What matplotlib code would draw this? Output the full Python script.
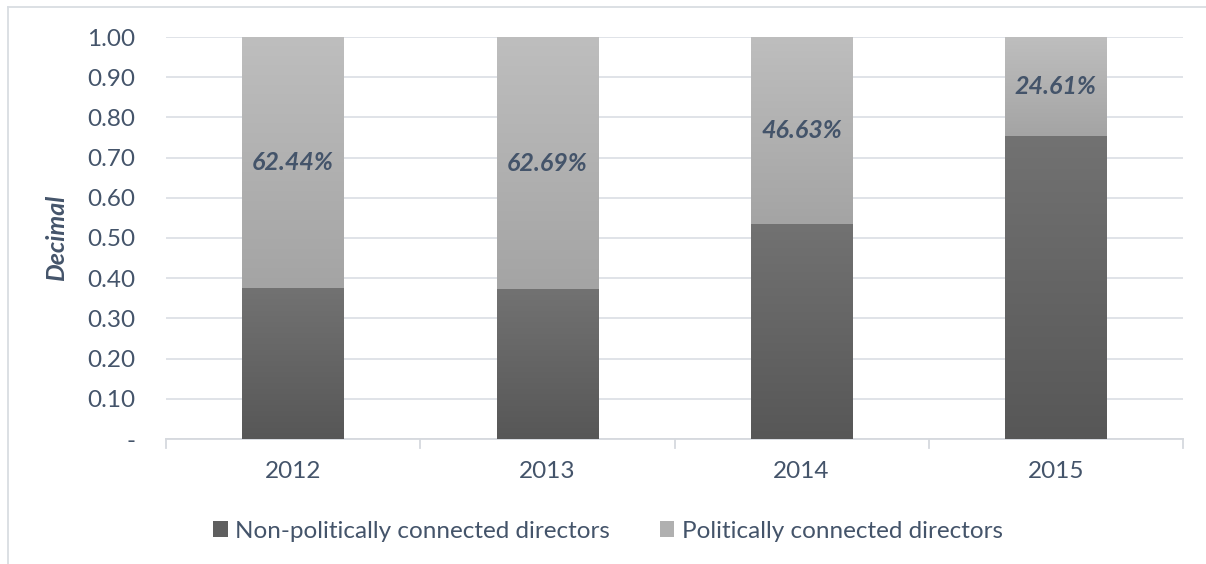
import matplotlib
matplotlib.use("Agg")
import matplotlib.pyplot as plt
import numpy as np
from matplotlib.lines import Line2D
from matplotlib.patches import Patch

years = ["2012", "2013", "2014", "2015"]
political_pct = [62.44, 62.69, 46.63, 24.61]
non_political = [1 - p / 100 for p in political_pct]
political = [p / 100 for p in political_pct]
yticks = [0.0, 0.1, 0.2, 0.3, 0.4, 0.5, 0.6, 0.7, 0.8, 0.9, 1.0]
yticklabels = ["-", "0.10", "0.20", "0.30", "0.40", "0.50", "0.60", "0.70", "0.80", "0.90", "1.00"]

TXT = "#44546A"
FONT = ["Lato", "DejaVu Sans"]
plt.rcParams["font.family"] = FONT

W, H = 1206, 564
fig = plt.figure(figsize=(W / 100, H / 100), dpi=100)
ax = fig.add_axes([166 / W, 1 - 439 / H, (1183 - 166) / W, (439 - 37) / H])

x = np.arange(len(years))
width = 0.4
ax.set_xlim(-0.5, len(years) - 0.5)
ax.set_ylim(0, 1.0)

def grad_bar(xc, bottom, height, c_top, c_bot):
    p = ax.bar(xc, height, width, bottom=bottom, color=c_bot, zorder=2, linewidth=0)[0]
    g = np.linspace(0, 1, 256).reshape(-1, 1)
    top = np.array(matplotlib.colors.to_rgb(c_top))
    bot = np.array(matplotlib.colors.to_rgb(c_bot))
    img = top[None, None, :] * (1 - g[:, :, None]) + bot[None, None, :] * g[:, :, None]
    im = ax.imshow(img, extent=(xc - width / 2, xc + width / 2, bottom, bottom + height),
                   aspect="auto", zorder=3, origin="upper", interpolation="bilinear")
    im.set_clip_path(p)

for i in range(len(years)):
    grad_bar(x[i], 0, non_political[i], "#727272", "#575757")
    grad_bar(x[i], non_political[i], political[i], "#bebebe", "#a4a4a4")
    ax.text(x[i], non_political[i] + political[i] / 2, f"{political_pct[i]:.2f}%",
            ha="center", va="center", fontsize=18, fontweight="bold", fontstyle="italic",
            color=TXT, zorder=5)

ax.set_yticks(yticks)
ax.set_yticklabels(yticklabels)
ax.set_xticks(x)
ax.set_xticklabels(years)
ax.tick_params(axis="y", length=0, pad=22, labelsize=17.5, labelcolor=TXT)
ax.tick_params(axis="x", length=0, pad=16, labelsize=17.5, labelcolor=TXT)
for lbl in ax.get_yticklabels():
    lbl.set_horizontalalignment("right")

ax.set_axisbelow(True)
ax.yaxis.grid(True, color="#dde1e6", linewidth=1.3)
ax.xaxis.grid(False)
for s in ["top", "right", "left"]:
    ax.spines[s].set_visible(False)
ax.spines["bottom"].set_color("#d6d9de")
ax.spines["bottom"].set_linewidth(1.3)

# category separator ticks
for b in np.arange(-0.5, len(years), 1.0):
    ax.plot([b, b], [0, -0.022], color="#d6d9de", lw=1.3, clip_on=False, zorder=1)

ax.set_ylabel("Decimal", fontsize=18, fontweight="bold", fontstyle="italic", color=TXT)
ax.yaxis.set_label_coords((57 - 166) / 1017, 0.5)
ax.yaxis.label.set_verticalalignment("center")

handles = [Patch(facecolor="#5f5f5f", edgecolor="none", label="Non-politically connected directors"),
           Patch(facecolor="#b0b0b0", edgecolor="none", label="Politically connected directors")]
fig.legend(handles=handles, loc="center", bbox_to_anchor=(608 / W, 1 - 531 / H), ncol=2,
           frameon=False, fontsize=17.5, labelcolor=TXT, handlelength=0.6, handleheight=0.6,
           handletextpad=0.3, columnspacing=2.05)

# outer chart border (top and left)
fig.add_artist(Line2D([8 / W, 1.0], [1 - 7 / H, 1 - 7 / H], color="#d9dde2", lw=1.3))
fig.add_artist(Line2D([8 / W, 8 / W], [0, 1 - 7 / H], color="#d9dde2", lw=1.3))

fig.savefig("out.png", dpi=100)
